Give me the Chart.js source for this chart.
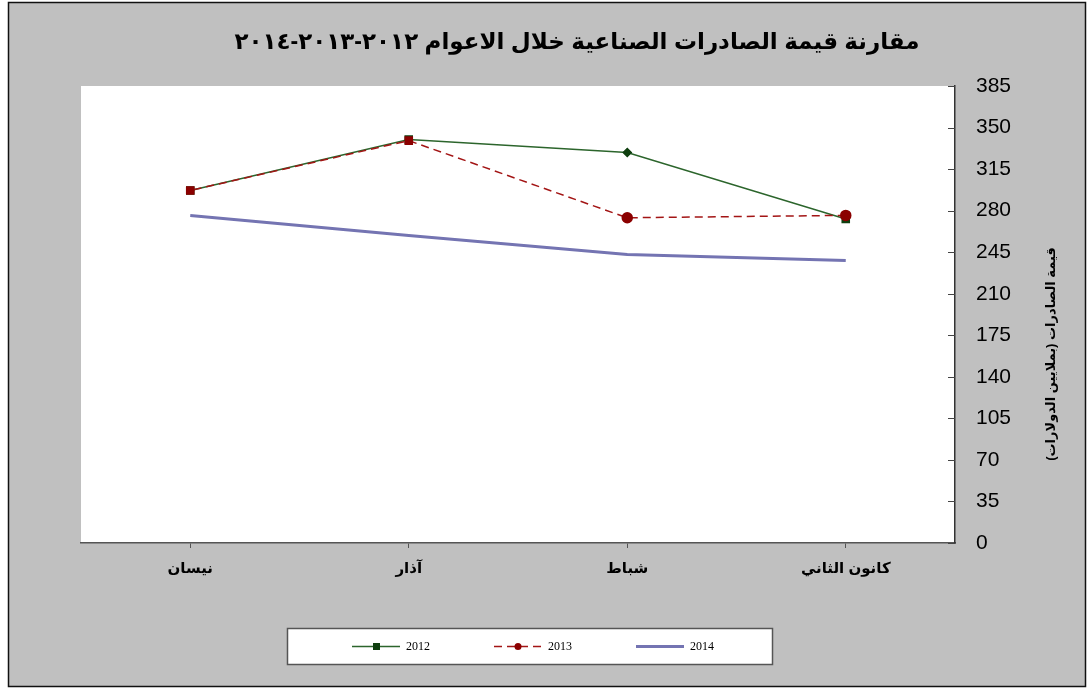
<!DOCTYPE html>
<html lang="ar">
<head>
<meta charset="utf-8">
<script src="https://cdn.jsdelivr.net/npm/chart.js@4.4.1/dist/chart.umd.min.js"></script>
<style>
  html, body { margin: 0; padding: 0; background: #fff; }
  #wrap { width: 1091px; height: 688px; }
</style>
</head>
<body>
<div id="wrap"><canvas id="chart" width="1091" height="688"></canvas></div>
<script>
// chronological order; axis is reversed (right-to-left)
const months = ['كانون الثاني', 'شباط', 'آذار', 'نيسان'];
const exports2012 = [273, 329, 340, 297];
const exports2013 = [276, 274, 339, 297];
const exports2014 = [238, 243, 259, 276];
const yTicks = [0, 35, 70, 105, 140, 175, 210, 245, 280, 315, 350, 385];

const chartTitle = 'مقارنة قيمة الصادرات الصناعية خلال الاعوام ٢٠١٢-٢٠١٣-٢٠١٤';
const yTitle = 'قيمة الصادرات (بملايين الدولارات)';

const COLORS = {
    green: '#2c652c',
    greenMark: '#0f3f0f',
    red: '#a31515',
    redMark: '#8b0000',
    blue: '#7474b2',
    frame: '#c0c0c0',
};

const ARIAL = '"Liberation Sans", "DejaVu Sans", Arial, sans-serif';

// background, frame, plot area, title, y title, inner ticks and legend box
const decorPlugin = {
    id: 'decor',
    beforeDraw(chart) {
        const { ctx, chartArea } = chart;
        ctx.save();
        ctx.fillStyle = '#fff';
        ctx.fillRect(0, 0, chart.width, chart.height);
        ctx.fillStyle = COLORS.frame;
        ctx.fillRect(8.5, 2.5, 1077, 684);
        ctx.strokeStyle = '#111';
        ctx.lineWidth = 1.5;
        ctx.strokeRect(8.5, 2.5, 1077, 684);
        ctx.fillStyle = '#fff';
        ctx.fillRect(chartArea.left, chartArea.top, chartArea.right - chartArea.left, chartArea.bottom - chartArea.top);
        ctx.restore();
    },
    afterDraw(chart) {
        const { ctx, chartArea } = chart;
        const y = chart.scales.y;
        ctx.save();

        // title
        ctx.direction = 'rtl';
        ctx.fillStyle = '#000';
        ctx.font = 'bold 23px ' + ARIAL;
        ctx.textAlign = 'center';
        ctx.textBaseline = 'middle';
        ctx.fillText(chartTitle, 577, 43);

        // y axis title, start of the text at the top
        ctx.save();
        ctx.translate(1051, 354);
        ctx.rotate(-Math.PI / 2);
        ctx.font = 'bold 13px ' + ARIAL;
        ctx.fillText(yTitle, 0, 0);
        ctx.restore();
        ctx.direction = 'ltr';

        // inner tick marks on the right axis
        ctx.strokeStyle = '#444';
        ctx.lineWidth = 1;
        yTicks.forEach(v => {
            const py = Math.round(y.getPixelForValue(v)) + 0.5;
            ctx.beginPath();
            ctx.moveTo(chartArea.right - 7, py);
            ctx.lineTo(chartArea.right, py);
            ctx.stroke();
        });

        // legend
        ctx.fillStyle = '#fff';
        ctx.fillRect(287.5, 628.5, 485, 36);
        ctx.strokeStyle = '#555';
        ctx.lineWidth = 1.5;
        ctx.strokeRect(287.5, 628.5, 485, 36);

        const ly = 646.5;
        const items = chart.data.datasets.map((ds, i) => ({ ds, x: [352, 494, 636][i] }));
        items.forEach(({ ds, x }) => {
            ctx.save();
            ctx.strokeStyle = ds.borderColor;
            ctx.lineWidth = ds.borderWidth;
            ctx.setLineDash(ds.borderDash || []);
            ctx.beginPath();
            ctx.moveTo(x, ly);
            ctx.lineTo(x + 48, ly);
            ctx.stroke();
            ctx.setLineDash([]);
            const ps = ds.legendPoint;
            ctx.fillStyle = ds.pointBackgroundColor;
            if (ps === 'rect') {
                ctx.fillRect(x + 21, ly - 3.5, 7, 7);
            } else if (ps === 'circle') {
                ctx.beginPath();
                ctx.arc(x + 24, ly, 3.5, 0, Math.PI * 2);
                ctx.fill();
            }
            ctx.fillStyle = '#000';
            ctx.font = '12px "Liberation Serif", "Times New Roman", serif';
            ctx.textAlign = 'left';
            ctx.textBaseline = 'middle';
            ctx.fillText(ds.label, x + 54, ly);
            ctx.restore();
        });
        ctx.restore();
    }
};

const ctx = document.getElementById('chart').getContext('2d');
new Chart(ctx, {
    type: 'line',
    data: {
        labels: months,
        datasets: [
            {
                label: '2012',
                data: exports2012,
                borderColor: COLORS.green,
                borderWidth: 1.5,
                pointStyle: ['rect', 'rectRot', 'rect', 'rect'],
                pointRadius: [5, 4, 5, 5],
                pointBackgroundColor: COLORS.greenMark,
                pointBorderColor: COLORS.greenMark,
                legendPoint: 'rect',
                tension: 0,
                order: 1,
            },
            {
                label: '2013',
                data: exports2013,
                borderColor: COLORS.red,
                borderWidth: 1.5,
                borderDash: [8, 5],
                pointStyle: ['circle', 'circle', 'rect', 'rect'],
                pointRadius: 5,
                pointBackgroundColor: COLORS.redMark,
                pointBorderColor: COLORS.redMark,
                legendPoint: 'circle',
                tension: 0,
                order: 0,
            },
            {
                label: '2014',
                data: exports2014,
                borderColor: COLORS.blue,
                borderWidth: 3,
                pointRadius: 0,
                legendPoint: 'none',
                tension: 0,
                order: 2,
            },
        ],
    },
    options: {
        responsive: false,
        animation: false,
        devicePixelRatio: 1,
        layout: { padding: { left: 81, top: 86, right: 0, bottom: 0 } },
        plugins: {
            legend: { display: false },
            title: { display: false },
            tooltip: { enabled: false },
        },
        scales: {
            x: {
                type: 'category',
                reverse: true,
                offset: true,
                grid: {
                    offset: false,
                    drawOnChartArea: false,
                    tickLength: 5,
                    color: '#555',
                },
                border: { color: '#555', width: 1.5 },
                ticks: {
                    color: '#000',
                    padding: 12,
                    font: { family: ARIAL, size: 15, weight: 'bold' },
                },
                afterFit(scale) { scale.height = 145; },
            },
            y: {
                position: 'right',
                min: 0,
                max: 385,
                afterBuildTicks(scale) { scale.ticks = yTicks.map(v => ({ value: v })); },
                grid: { drawOnChartArea: false, drawTicks: false },
                border: { color: '#333', width: 1.5 },
                ticks: {
                    color: '#000',
                    padding: 21,
                    font: { family: ARIAL, size: 21 },
                },
                afterFit(scale) { scale.width = 136; },
            },
        },
    },
    plugins: [decorPlugin],
});
</script>
</body>
</html>
